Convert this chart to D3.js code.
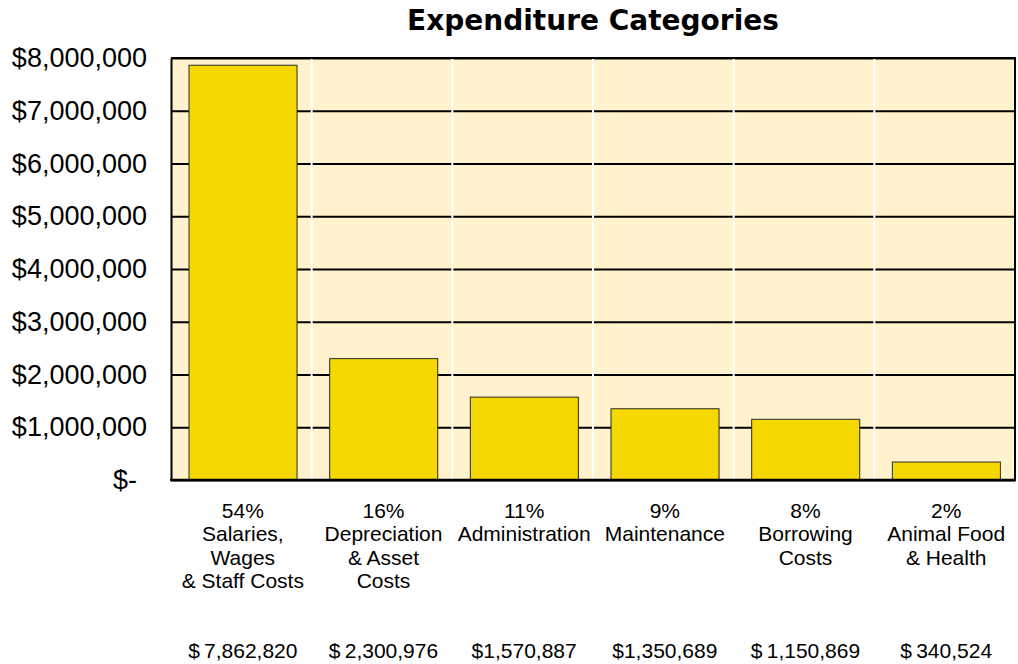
<!DOCTYPE html>
<html>
<head>
<meta charset="utf-8">
<script src="https://cdn.jsdelivr.net/npm/d3@7"></script>
<style>
  body { margin: 0; background: #fff; }
  svg { display: block; }
</style>
</head>
<body>
<svg id="chart" width="1018" height="664"></svg>
<script>
// Chart data
var categories = [
  ["54%", "Salaries,", "Wages", "& Staff Costs"],
  ["16%", "Depreciation", "& Asset", "Costs"],
  ["11%", "Administration"],
  ["9%", "Maintenance"],
  ["8%", "Borrowing", "Costs"],
  ["2%", "Animal Food", "& Health"]
]
var values = [7862820, 2300976, 1570887, 1350689, 1150869, 340524]
var value_labels = ["$\u20097,862,820", "$\u20092,300,976", "$1,570,887", "$1,350,689", "$\u20091,150,869", "$\u2009340,524"]
var y_ticks = [0, 1000000, 2000000, 3000000, 4000000, 5000000, 6000000, 7000000, 8000000]

var svg = d3.select("#chart")
var font = "Liberation Sans, Arial, sans-serif"
var plot_left = 171, plot_right = 1015, plot_top = 58, plot_bottom = 480

// bars sit a little right of the category centre in the original
var x = d3.scaleBand()
  .domain(d3.range(values.length))
  .range([plot_left + 1.7, plot_right + 1.7])
  .paddingInner(0.232)
  .paddingOuter(0.116)

var y = d3.scaleLinear()
  .domain([0, 8000000])
  .range([plot_bottom, plot_top])

// plot background
svg.append("rect")
  .attr("x", plot_left).attr("y", plot_top)
  .attr("width", plot_right - plot_left).attr("height", plot_bottom - plot_top)
  .attr("fill", "#fff2cc")

// horizontal gridlines
svg.append("g")
  .attr("transform", "translate(" + plot_left + ",0)")
  .call(d3.axisLeft(y).tickValues(y_ticks).tickSize(-(plot_right - plot_left)).tickFormat(""))
  .call(g => g.select(".domain").remove())
  .selectAll("line")
    .attr("stroke", "#000")
    .attr("stroke-width", 2)

// white category separators
var step = (plot_right - plot_left) / values.length
svg.append("g").selectAll("line")
  .data(d3.range(1, values.length))
  .join("line")
    .attr("x1", d => plot_left + d * step).attr("x2", d => plot_left + d * step)
    .attr("y1", plot_top + 1).attr("y2", plot_bottom)
    .attr("stroke", "#fff")
    .attr("stroke-width", 2)

// bars
svg.append("g").selectAll("rect")
  .data(values)
  .join("rect")
    .attr("x", (d, i) => x(i))
    .attr("y", d => y(d))
    .attr("width", x.bandwidth())
    .attr("height", d => plot_bottom - y(d))
    .attr("fill", "#f5d800")
    .attr("stroke", "#2a2a2a")
    .attr("stroke-width", 1)

// frame: top and right border
svg.append("path")
  .attr("d", "M" + plot_left + "," + plot_top + "H" + plot_right + "V" + plot_bottom)
  .attr("fill", "none")
  .attr("stroke", "#000")
  .attr("stroke-width", 2)

// y axis
var fmt = d3.format(",")
svg.append("g")
  .attr("transform", "translate(" + plot_left + ",0)")
  .call(d3.axisLeft(y).tickValues(y_ticks).tickSize(0).tickPadding(24)
    .tickFormat(d => d == 0 ? "$-" : "$" + fmt(d)))
  .call(g => g.select(".domain").attr("stroke", "#000").attr("stroke-width", 2))
  .selectAll("text")
    .attr("font-size", 27)
    .attr("font-family", font)
    .attr("fill", "#000")
    .attr("dx", d => d == 0 ? -10 : 0)

// x axis line
svg.append("line")
  .attr("x1", plot_left - 1).attr("x2", plot_right + 1)
  .attr("y1", plot_bottom).attr("y2", plot_bottom)
  .attr("stroke", "#000")
  .attr("stroke-width", 2.5)

// category labels
var cat = svg.append("g").selectAll("text")
  .data(categories)
  .join("text")
    .attr("text-anchor", "middle")
    .attr("font-family", font)
    .attr("font-size", 21)

cat.selectAll("tspan")
  .data((d, i) => d.map(s => ({s: s, i: i})))
  .join("tspan")
    .attr("x", d => plot_left + (d.i + 0.5) * step + 1.5)
    .attr("y", (d, j) => 518 + j * 23.3)
    .text(d => d.s)

// value labels
svg.append("g").selectAll("text")
  .data(value_labels)
  .join("text")
    .attr("x", (d, i) => plot_left + (i + 0.5) * step + 1.5)
    .attr("y", 658)
    .attr("text-anchor", "middle")
    .attr("font-family", font)
    .attr("font-size", 21)
    .text(d => d)

// title
svg.append("text")
  .attr("x", (plot_left + plot_right) / 2)
  .attr("y", 30)
  .attr("text-anchor", "middle")
  .attr("font-family", "DejaVu Sans, sans-serif")
  .attr("font-weight", "bold")
  .attr("font-size", 28)
  .text("Expenditure Categories")
</script>
</body>
</html>
